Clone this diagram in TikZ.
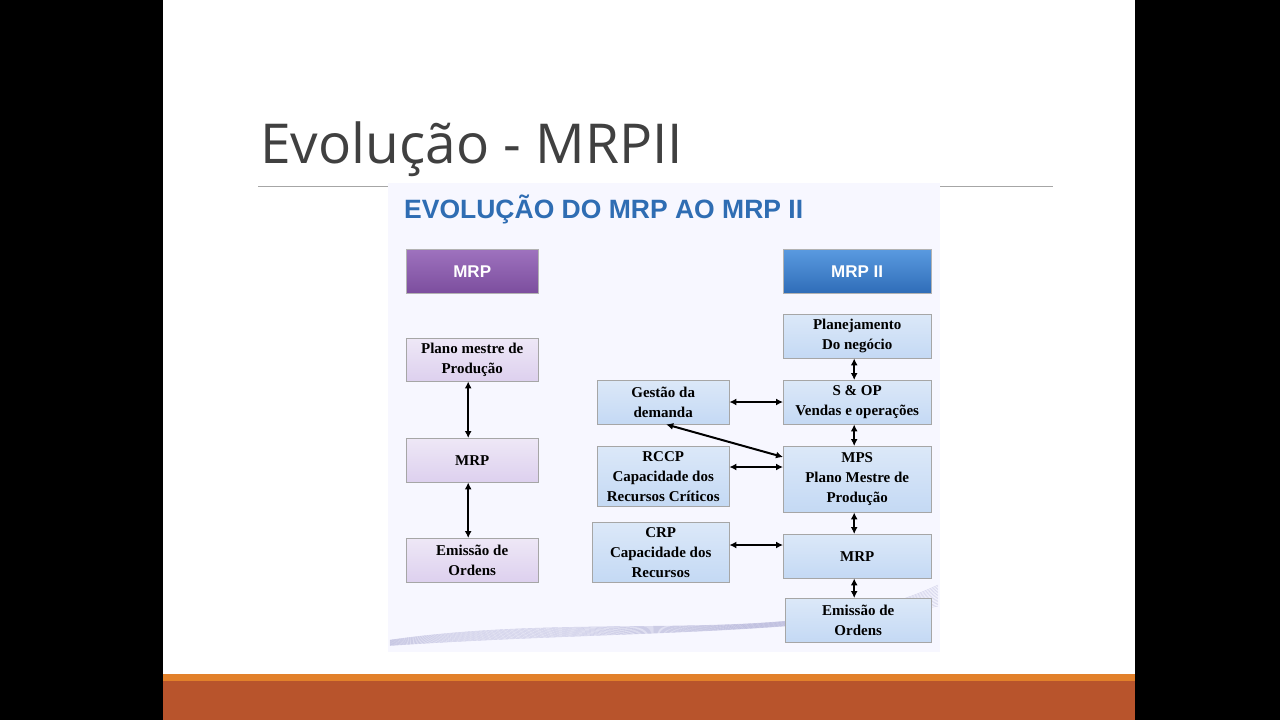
\documentclass[tikz,border=0pt]{standalone}
\usepackage{fontspec}
\setmainfont{Liberation Serif}
\newfontfamily\titlefont{Open Sans}
\newfontfamily\headfont{Liberation Sans}
\usetikzlibrary{arrows.meta}
\definecolor{lav}{HTML}{DDD0EE}
\definecolor{lbl}{HTML}{C4D9F4}
\definecolor{orng}{HTML}{E2802A}
\definecolor{rust}{HTML}{B8542C}
\definecolor{headblue}{HTML}{2F6DB3}
\definecolor{purt}{HTML}{9E72BE}
\definecolor{purb}{HTML}{7C4E9E}
\definecolor{blut}{HTML}{5A9AE0}
\definecolor{blub}{HTML}{2F6DB8}
\tikzset{
 lbox/.style={draw=gray!70,top color=white!50!lav,bottom color=lav,font=\bfseries\fontsize{15}{20}\selectfont,align=center,inner sep=0pt,anchor=north west},
 bbox/.style={draw=gray!70,top color=white!40!lbl,bottom color=lbl,font=\bfseries\fontsize{15}{20}\selectfont,align=center,inner sep=0pt,anchor=north west},
 hbox/.style={draw=gray!60,text=white,font=\headfont\bfseries\fontsize{17}{20}\selectfont,inner sep=0pt,anchor=north west},
 dbl/.style={{Latex[length=7pt,width=7pt]}-{Latex[length=7pt,width=7pt]},line width=2pt}
}
\begin{document}
\begin{tikzpicture}[x=1pt,y=-1pt]
\useasboundingbox (0,0) rectangle (1280,720);
\fill[black] (0,0) rectangle (1280,720);
\fill[white] (163,0) rectangle (1135,674);
\fill[orng] (163,674) rectangle (1135,681);
\fill[rust] (163,681) rectangle (1135,720);
\node[anchor=base west,text=black!75,font=\titlefont\fontsize{55}{60}\selectfont,inner sep=0pt] (title) at (260,163) {Evolução - MRPII};
\draw[gray!70] (258,186) -- (1053,186);
\fill[white!97!blue] (388,183) rectangle (940,652);
\foreach \i in {0,...,14}{
 \draw[blue!30!gray,opacity=0.25,line width=0.4pt] (390,{640+\i*0.4}) .. controls (600,{610+\i*1.5}) and (800,{650-\i*1}) .. (938,{585+\i*1.5});
}
\node[anchor=west,text=headblue,font=\headfont\bfseries\fontsize{26.5}{28}\selectfont,inner sep=0pt] (head) at (404,209) {EVOLUÇÃO DO MRP AO MRP II};
\node[hbox,minimum width=132pt,minimum height=44pt,top color=purt,bottom color=purb] (mrph) at (406,249) {MRP};
\node[hbox,minimum width=148pt,minimum height=44pt,top color=blut,bottom color=blub] (mrp2h) at (783,249) {MRP II};
% left
\node[lbox,minimum width=132pt,minimum height=43pt] (pm) at (406,338) {Plano mestre de\\Produção};
\node[lbox,minimum width=132pt,minimum height=44pt] (lmrp) at (406,438) {MRP};
\node[lbox,minimum width=132pt,minimum height=44pt] (lem) at (406,538) {Emissão de\\Ordens};
\draw[dbl] ([xshift=-4pt]pm.south) -- ([xshift=-4pt]lmrp.north);
\draw[dbl] ([xshift=-4pt]lmrp.south) -- ([xshift=-4pt]lem.north);
% right
\node[bbox,minimum width=148pt,minimum height=44pt] (plan) at (783,314) {Planejamento\\Do negócio};
\node[bbox,minimum width=148pt,minimum height=44pt] (sop) at (783,380) {S \& OP\\Vendas e operações};
\node[bbox,minimum width=148pt,minimum height=66pt] (mps) at (783,446) {MPS\\Plano Mestre de\\Produção};
\node[bbox,minimum width=148pt,minimum height=44pt] (rmrp) at (783,534) {MRP};
\node[bbox,minimum width=146pt,minimum height=44pt] (rem) at (785,598) {Emissão de\\Ordens};
\node[bbox,minimum width=132pt,minimum height=44pt] (ges) at (597,380) {Gestão da\\demanda};
\node[bbox,minimum width=132pt,minimum height=60pt] (rccp) at (597,446) {RCCP\\Capacidade dos\\Recursos Críticos};
\node[bbox,minimum width=137pt,minimum height=60pt] (crp) at (592,522) {CRP\\Capacidade dos\\Recursos};
\draw[dbl] ([xshift=-3pt]plan.south) -- ([xshift=-3pt]sop.north);
\draw[dbl] ([xshift=-3pt]sop.south) -- ([xshift=-3pt]mps.north);
\draw[dbl] ([xshift=-3pt]mps.south) -- ([xshift=-3pt]rmrp.north);
\draw[dbl] ([xshift=-3pt]rmrp.south) -- ([xshift=-3pt]rmrp.south |- rem.north);
\draw[dbl] (ges.east |- 0,402) -- (sop.west |- 0,402);
\draw[dbl] (rccp.east |- 0,467) -- (mps.west |- 0,467);
\draw[dbl] (crp.east |- 0,545) -- (rmrp.west |- 0,545);
\draw[dbl] ([xshift=3pt]ges.south) -- ([yshift=-11pt]mps.north west);
\end{tikzpicture}
\end{document}
